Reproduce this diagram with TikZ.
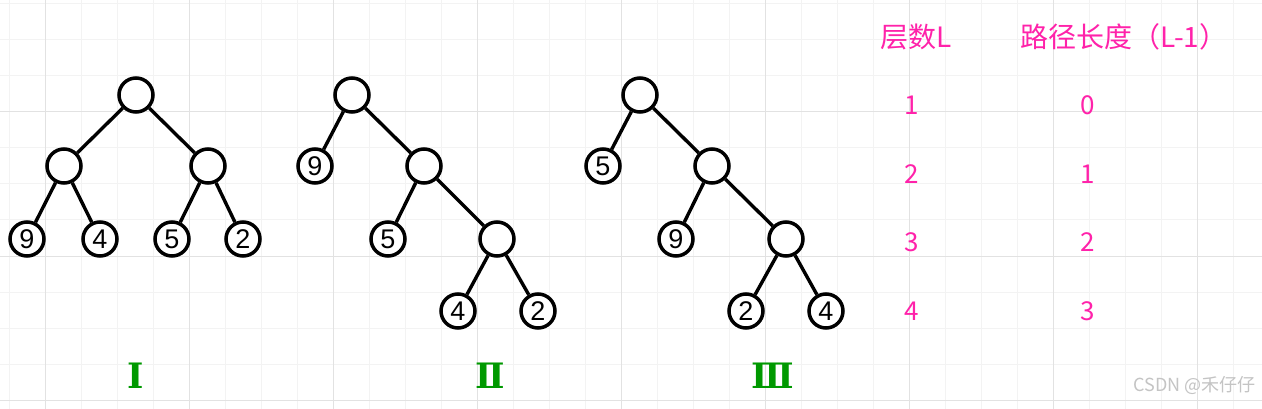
\documentclass[tikz,border=0pt]{standalone}
\usepackage{fontspec}
\setmainfont{Liberation Sans}
\newfontfamily\cjk{Noto Sans CJK SC}
\newfontfamily\romfont{DejaVu Serif}
\definecolor{pinktxt}{HTML}{FF22AA}
\definecolor{greentxt}{HTML}{009900}
\definecolor{gridmajor}{HTML}{E2E2E2}
\definecolor{gridminor}{HTML}{F3F3F3}
\definecolor{wmark}{HTML}{C4C4C4}
\begin{document}
\begin{tikzpicture}[x=1pt,y=-1pt,
  tn/.style={circle,draw=black,line width=3.5pt,minimum size=34pt,inner sep=0pt,fill=white,font=\fontsize{27}{27}\selectfont},
  ed/.style={line width=3.4pt,draw=black},
  pk/.style={text=pinktxt,font=\cjk\fontsize{26}{26}\selectfont,inner sep=0pt},
  rn/.style={text=greentxt,font=\romfont\bfseries\fontsize{35}{35}\selectfont,inner sep=0pt}]
\useasboundingbox (0,0) rectangle (1262,409);
\fill[white] (0,0) rectangle (1262,409);
% grid
\foreach \x in {9,45,...,1262} \draw[gridminor,line width=1pt] (\x,0) -- (\x,409);
\foreach \y in {4,40,...,409} \draw[gridminor,line width=1pt] (0,\y) -- (1262,\y);
\foreach \x in {45,189,...,1262} \draw[gridmajor,line width=1pt] (\x,0) -- (\x,409);
\foreach \y in {112,256,400} \draw[gridmajor,line width=1pt] (0,\y) -- (1262,\y);
% tree I
\node[tn] (a1) at (136,95) {};
\node[tn] (a2) at (64,166) {};
\node[tn] (a3) at (208,166) {};
\node[tn] (a4) at (27,239) {9};
\node[tn] (a5) at (100,239) {4};
\node[tn] (a6) at (172,239) {5};
\node[tn] (a7) at (243,239) {2};
\draw[ed] (a1) -- (a2); \draw[ed] (a1) -- (a3);
\draw[ed] (a2) -- (a4); \draw[ed] (a2) -- (a5);
\draw[ed] (a3) -- (a6); \draw[ed] (a3) -- (a7);
% tree II
\node[tn] (b1) at (352,95) {};
\node[tn] (b2) at (315,166) {9};
\node[tn] (b3) at (424,166) {};
\node[tn] (b4) at (388,239) {5};
\node[tn] (b5) at (497,239) {};
\node[tn] (b6) at (458,311) {4};
\node[tn] (b7) at (538,311) {2};
\draw[ed] (b1) -- (b2); \draw[ed] (b1) -- (b3);
\draw[ed] (b3) -- (b4); \draw[ed] (b3) -- (b5);
\draw[ed] (b5) -- (b6); \draw[ed] (b5) -- (b7);
% tree III
\node[tn] (c1) at (640,95) {};
\node[tn] (c2) at (603,166) {5};
\node[tn] (c3) at (712,166) {};
\node[tn] (c4) at (676,239) {9};
\node[tn] (c5) at (786,239) {};
\node[tn] (c6) at (746,311) {2};
\node[tn] (c7) at (826,311) {4};
\draw[ed] (c1) -- (c2); \draw[ed] (c1) -- (c3);
\draw[ed] (c3) -- (c4); \draw[ed] (c3) -- (c5);
\draw[ed] (c5) -- (c6); \draw[ed] (c5) -- (c7);
% labels
\node[rn] (r1) at (136,376) {Ⅰ};
\node[rn] (r2) at (490,376) {Ⅱ};
\node[rn] (r3) at (773,376) {Ⅲ};
% table
\node[pk,font=\cjk\fontsize{28}{28}\selectfont] (h1) at (916,37) {层数L};
\node[pk,font=\cjk\fontsize{28}{28}\selectfont] (h2) at (1124,37) {路径长度（L-1）};
\node[pk] (l1) at (912,105) {1};
\node[pk] (l2) at (912,174) {2};
\node[pk] (l3) at (912,242) {3};
\node[pk] (l4) at (912,311) {4};
\node[pk] (p1) at (1088,105) {0};
\node[pk] (p2) at (1088,174) {1};
\node[pk] (p3) at (1088,242) {2};
\node[pk] (p4) at (1088,311) {3};
\node[text=wmark,font=\cjk\fontsize{18}{18}\selectfont,anchor=east,inner sep=0pt] (wm) at (1256,386) {CSDN @禾仔仔};
\end{tikzpicture}
\end{document}
